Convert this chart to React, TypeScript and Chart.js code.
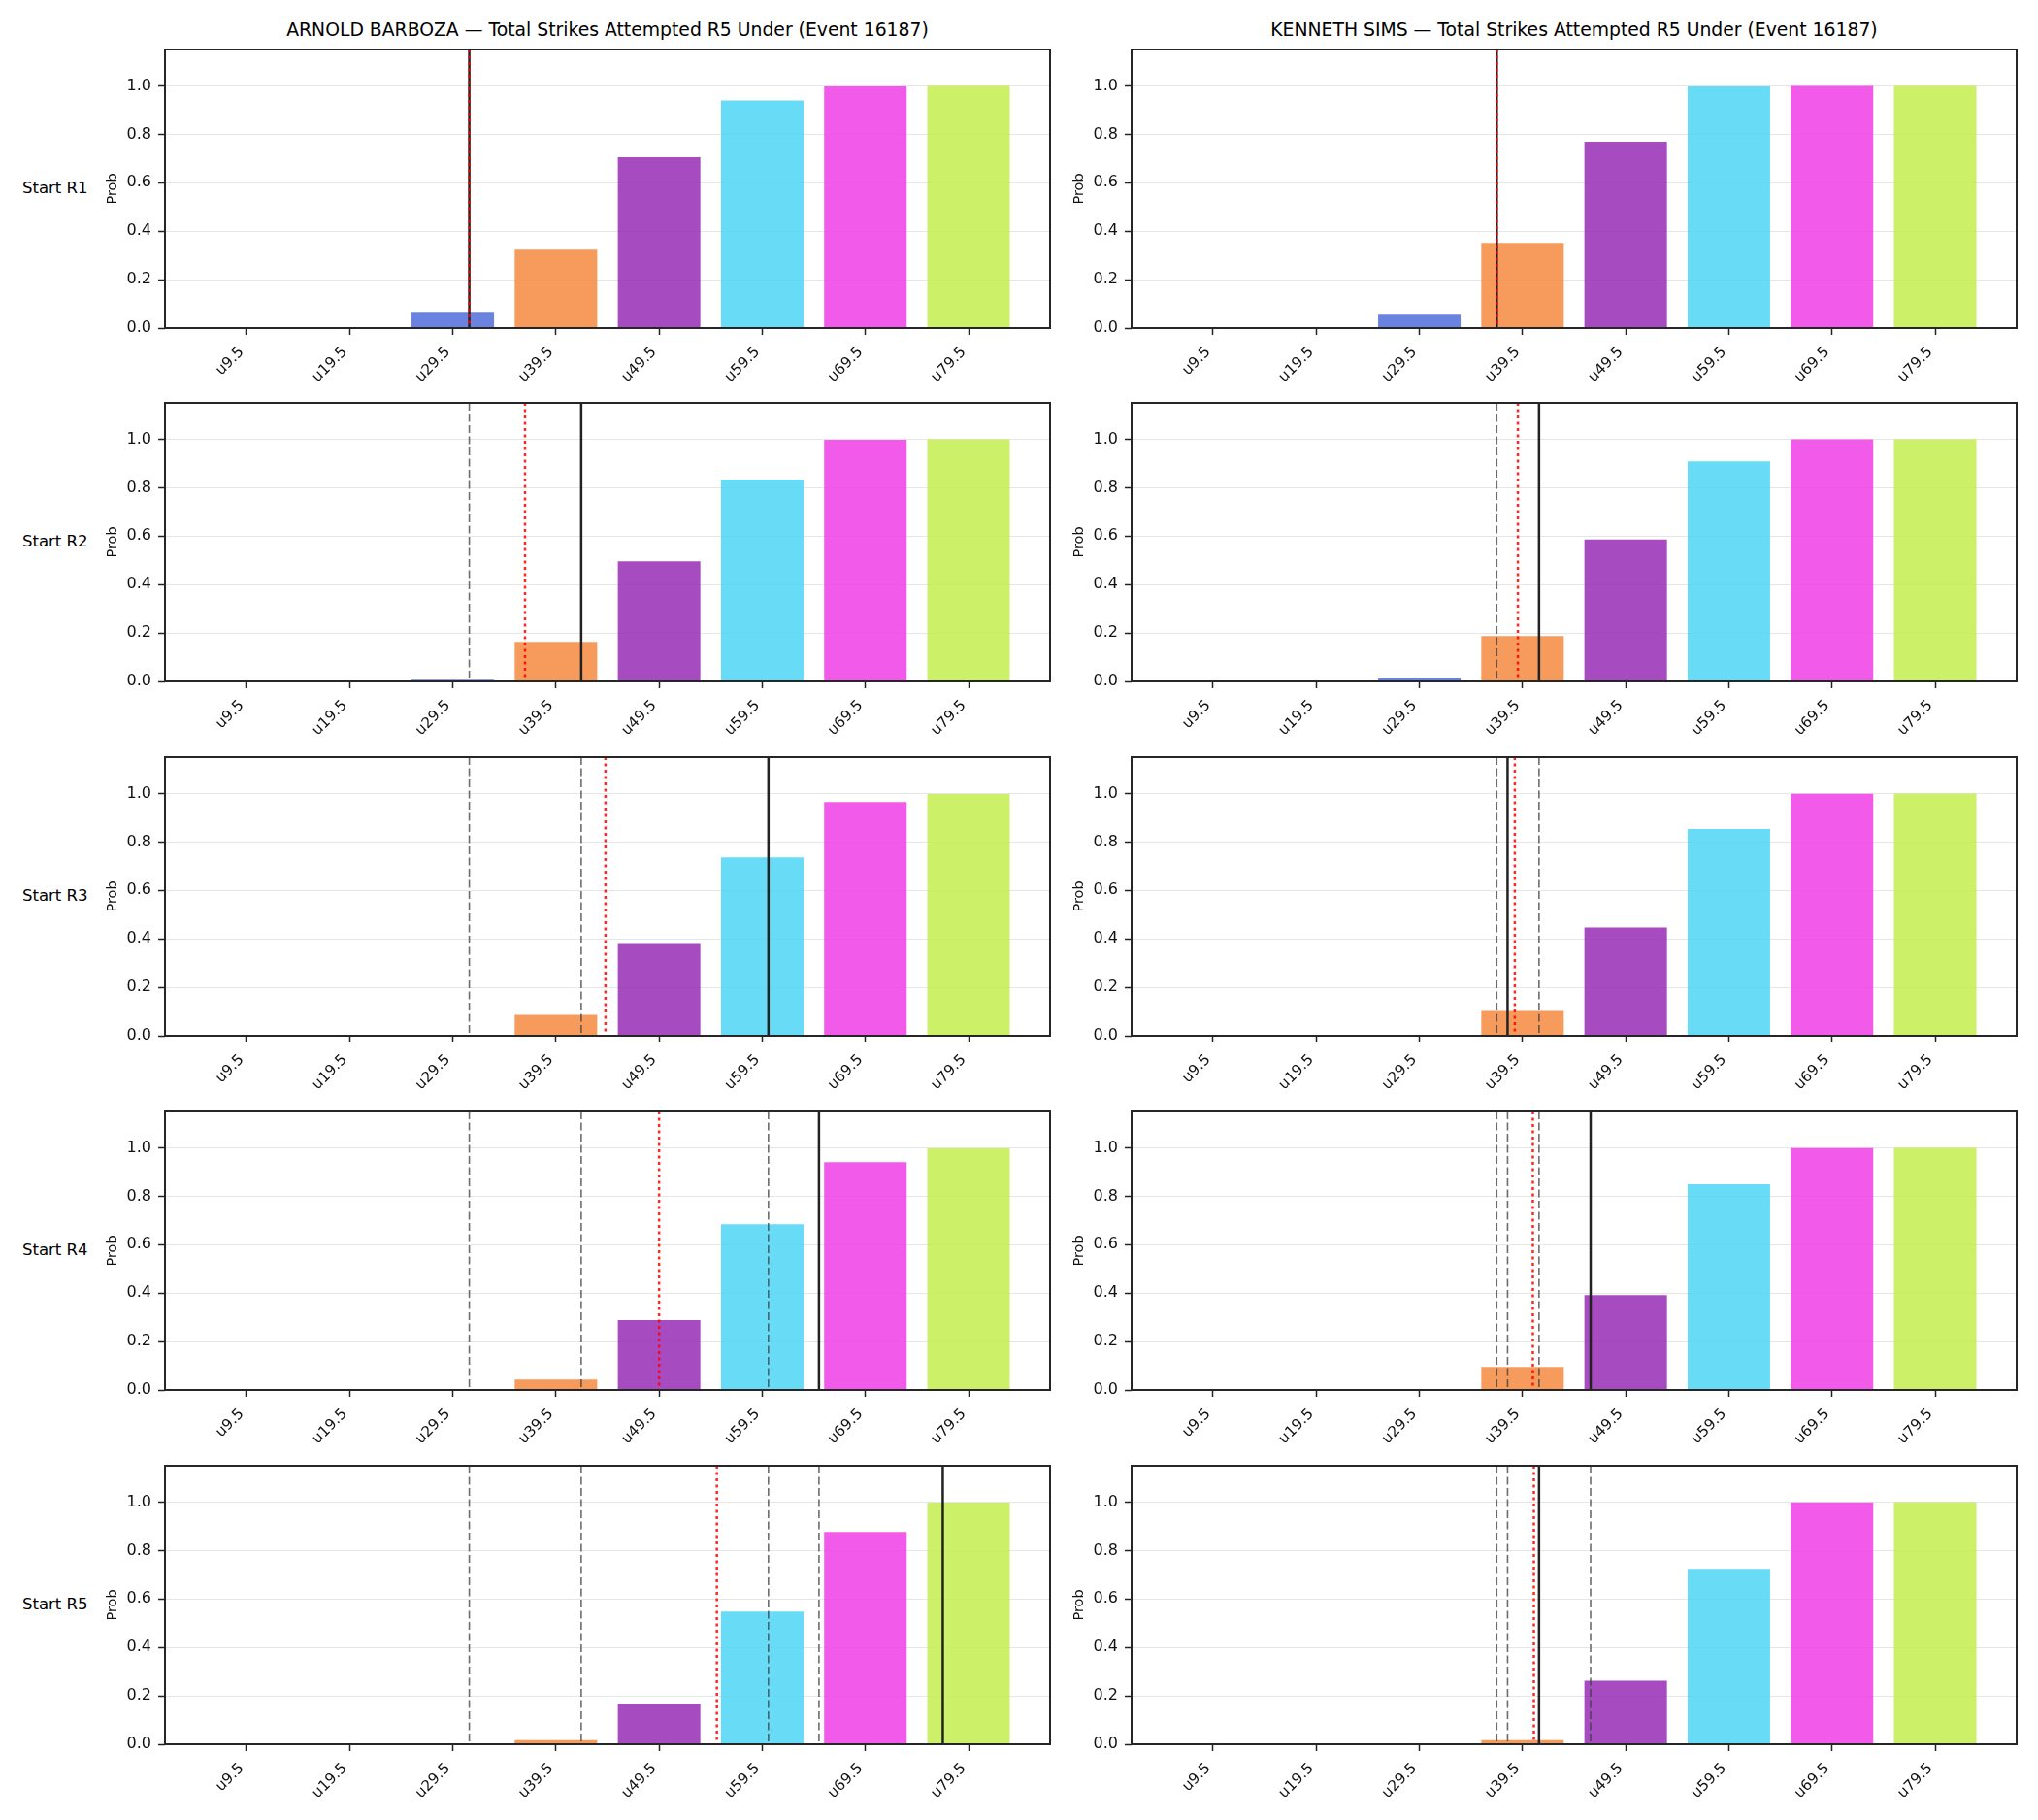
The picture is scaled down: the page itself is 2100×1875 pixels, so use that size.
import React, { useEffect, useRef } from 'react';
import { Chart, registerables } from 'chart.js';

Chart.register(...registerables);
Chart.defaults.font.family = "'DejaVu Sans', sans-serif";

// ---------------- data ----------------
const categories = ['u9.5', 'u19.5', 'u29.5', 'u39.5', 'u49.5', 'u59.5', 'u69.5', 'u79.5'];
const thresholds = [9.5, 19.5, 29.5, 39.5, 49.5, 59.5, 69.5, 79.5];
const yTicks = [0, 0.2, 0.4, 0.6, 0.8, 1.0];
const rounds = ['Start R1', 'Start R2', 'Start R3', 'Start R4', 'Start R5'];
const players = ['ARNOLD BARBOZA', 'KENNETH SIMS'];
const market = 'Total Strikes Attempted R5 Under (Event 16187)';

const barbozaR1 = [0, 0, 0.067, 0.324, 0.705, 0.94, 0.998, 1.0];
const barbozaR2 = [0, 0, 0.007, 0.163, 0.496, 0.833, 0.998, 1.0];
const barbozaR3 = [0, 0, 0.0005, 0.086, 0.379, 0.736, 0.965, 0.998];
const barbozaR4 = [0, 0, 0, 0.043, 0.289, 0.684, 0.941, 0.998];
const barbozaR5 = [0, 0, 0, 0.017, 0.167, 0.548, 0.877, 0.998];

const simsR1 = [0, 0, 0.055, 0.352, 0.769, 0.998, 1.0, 1.0];
const simsR2 = [0, 0, 0.015, 0.187, 0.586, 0.909, 1.0, 1.0];
const simsR3 = [0, 0, 0.003, 0.102, 0.447, 0.853, 0.999, 1.0];
const simsR4 = [0, 0, 0.002, 0.095, 0.392, 0.849, 0.999, 1.0];
const simsR5 = [0, 0, 0, 0.017, 0.262, 0.724, 0.999, 1.0];

// solid line (current round) and red dotted line, in strikes
const barbozaSolid = [31.1, 41.95, 60.1, 65.0, 77.0];
const barbozaDotted = [31.1, 36.5, 44.3, 49.5, 55.1];
const simsSolid = [37.0, 41.1, 38.05, 46.1, 41.1];
const simsDotted = [37.0, 39.05, 38.75, 40.5, 40.6];

const barColors = [
  'rgba(228,26,28,0.85)',
  'rgba(77,175,74,0.85)',
  'rgba(80,108,219,0.85)',
  'rgba(244,137,63,0.85)',
  'rgba(150,43,181,0.85)',
  'rgba(77,213,244,0.85)',
  'rgba(240,62,229,0.85)',
  'rgba(195,237,77,0.85)',
];

const playerProbs = [
  [barbozaR1, barbozaR2, barbozaR3, barbozaR4, barbozaR5],
  [simsR1, simsR2, simsR3, simsR4, simsR5],
];
const playerSolid = [barbozaSolid, simsSolid];
const playerDotted = [barbozaDotted, simsDotted];

// ---------------- layout ----------------
const PLOT_LEFT = [170, 1166];
const PLOT_W = 912;
const PLOT_TOP = [51, 415, 780, 1145, 1510];
const PLOT_H = 287;
const YW = 62;
const XH = 75;
const PT = 8;
const PR = 10;

const toIdx = (v: number) => (v - thresholds[0]) / (thresholds[1] - thresholds[0]);

type SubProps = {
  probs: number[];
  solid: number;
  dotted: number;
  previous: number[];
  left: number;
  top: number;
};

function Subplot({ probs, solid, dotted, previous, left, top }: SubProps) {
  const ref = useRef<HTMLCanvasElement>(null);
  useEffect(() => {
    if (!ref.current) return;
    const vlines = {
      id: 'vlines',
      afterDatasetsDraw(chart: any) {
        const { ctx, chartArea: a } = chart;
        const x = chart.scales.x;
        ctx.save();
        ctx.beginPath();
        ctx.rect(a.left, a.top, a.right - a.left, a.bottom - a.top);
        ctx.clip();
        const draw = (v: number, color: string, width: number, dash: number[]) => {
          const px = x.getPixelForValue(toIdx(v));
          ctx.beginPath();
          ctx.setLineDash(dash);
          ctx.strokeStyle = color;
          ctx.lineWidth = width;
          ctx.moveTo(px, a.top);
          ctx.lineTo(px, a.bottom);
          ctx.stroke();
        };
        previous.forEach((v) => draw(v, 'rgba(60,60,60,0.75)', 1.6, [8, 3.5]));
        draw(solid, '#222222', 2.5, []);
        draw(dotted, 'rgba(255,0,0,0.85)', 2.5, [3, 3.5]);
        ctx.restore();
      },
      afterDraw(chart: any) {
        const { ctx, chartArea: a } = chart;
        ctx.save();
        ctx.strokeStyle = '#262626';
        ctx.lineWidth = 2;
        ctx.setLineDash([]);
        ctx.strokeRect(a.left, a.top, a.right - a.left, a.bottom - a.top);
        ctx.restore();
      },
    };
    const chart = new Chart(ref.current, {
      type: 'bar',
      data: {
        datasets: [
          {
            data: probs.map((y, i) => ({ x: i, y })),
            backgroundColor: barColors,
            borderWidth: 0,
            barPercentage: 0.8,
            categoryPercentage: 1,
          } as any,
        ],
      },
      options: {
        animation: false,
        responsive: false,
        devicePixelRatio: 1,
        layout: { padding: { top: PT, right: PR, left: 0, bottom: 0 } },
        plugins: { legend: { display: false }, tooltip: { enabled: false } },
        scales: {
          x: {
            type: 'linear',
            min: -0.79,
            max: 7.79,
            bounds: 'data',
            offset: false,
            afterBuildTicks: (s: any) => {
              s.ticks = categories.map((_, i) => ({ value: i }));
            },
            afterFit: (s: any) => {
              s.height = XH;
              s.paddingLeft = 0;
              s.paddingRight = 0;
              s.paddingTop = 0;
              s.paddingBottom = 0;
            },
            grid: {
              offset: false,
              drawOnChartArea: false,
              drawTicks: true,
              tickLength: 7,
              tickColor: '#222',
              tickWidth: 1.5,
            },
            border: { display: false },
            ticks: {
              autoSkip: false,
              minRotation: 45,
              maxRotation: 45,
              padding: 9,
              labelOffset: -5,
              color: '#111',
              font: { size: 15.2 },
              callback: (v: any) => categories[Math.round(Number(v))],
            },
          } as any,
          y: {
            type: 'linear',
            min: 0,
            max: 1.15,
            bounds: 'data',
            afterBuildTicks: (s: any) => {
              s.ticks = yTicks.map((v) => ({ value: v }));
            },
            afterFit: (s: any) => {
              s.width = YW;
              s.paddingLeft = 0;
              s.paddingRight = 0;
              s.paddingTop = 0;
              s.paddingBottom = 0;
            },
            grid: {
              color: '#e6e6e6',
              lineWidth: 1,
              tickColor: '#222',
              tickWidth: 1.5,
              tickLength: 7,
            },
            border: { display: false },
            ticks: {
              padding: 7,
              color: '#111',
              font: { size: 16 },
              callback: (v: any) => Number(v).toFixed(1),
            },
            title: {
              display: true,
              text: 'Prob',
              color: '#111',
              font: { size: 14.5 },
              padding: 0,
            },
          } as any,
        },
      },
      plugins: [vlines],
    });
    return () => chart.destroy();
  }, []);
  const w = YW + PLOT_W + PR;
  const h = PT + PLOT_H + XH;
  return (
    <canvas
      ref={ref}
      width={w}
      height={h}
      style={{ position: 'absolute', left: left - YW, top: top - PT, width: w, height: h, display: 'block' }}
    />
  );
}

export default function App() {
  const items: React.ReactNode[] = [];
  players.forEach((p, c) => {
    items.push(
      <div
        key={'t' + c}
        style={{
          position: 'absolute',
          left: PLOT_LEFT[c],
          width: PLOT_W,
          top: 20,
          textAlign: 'center',
          fontFamily: "'DejaVu Sans', sans-serif",
          fontSize: 18.8,
          lineHeight: '22px',
          color: '#000',
          whiteSpace: 'nowrap',
        }}
      >
        {p + ' — ' + market}
      </div>
    );
    rounds.forEach((r, i) => {
      items.push(
        <Subplot
          key={'s' + c + '-' + i}
          probs={playerProbs[c][i]}
          solid={playerSolid[c][i]}
          dotted={playerDotted[c][i]}
          previous={playerSolid[c].slice(0, i)}
          left={PLOT_LEFT[c]}
          top={PLOT_TOP[i]}
        />
      );
    });
  });
  rounds.forEach((r, i) => {
    items.push(
      <div
        key={'r' + i}
        style={{
          position: 'absolute',
          left: 23,
          top: PLOT_TOP[i] + 133,
          fontFamily: "'DejaVu Sans', sans-serif",
          fontSize: 16.5,
          lineHeight: '19.8px',
          color: '#000',
          whiteSpace: 'nowrap',
        }}
      >
        {r}
      </div>
    );
  });
  return (
    <div
      style={{
        position: 'absolute',
        left: 0,
        top: 0,
        width: 2100,
        height: 1875,
        background: '#fff',
        overflow: 'hidden',
      }}
    >
      {items}
    </div>
  );
}
